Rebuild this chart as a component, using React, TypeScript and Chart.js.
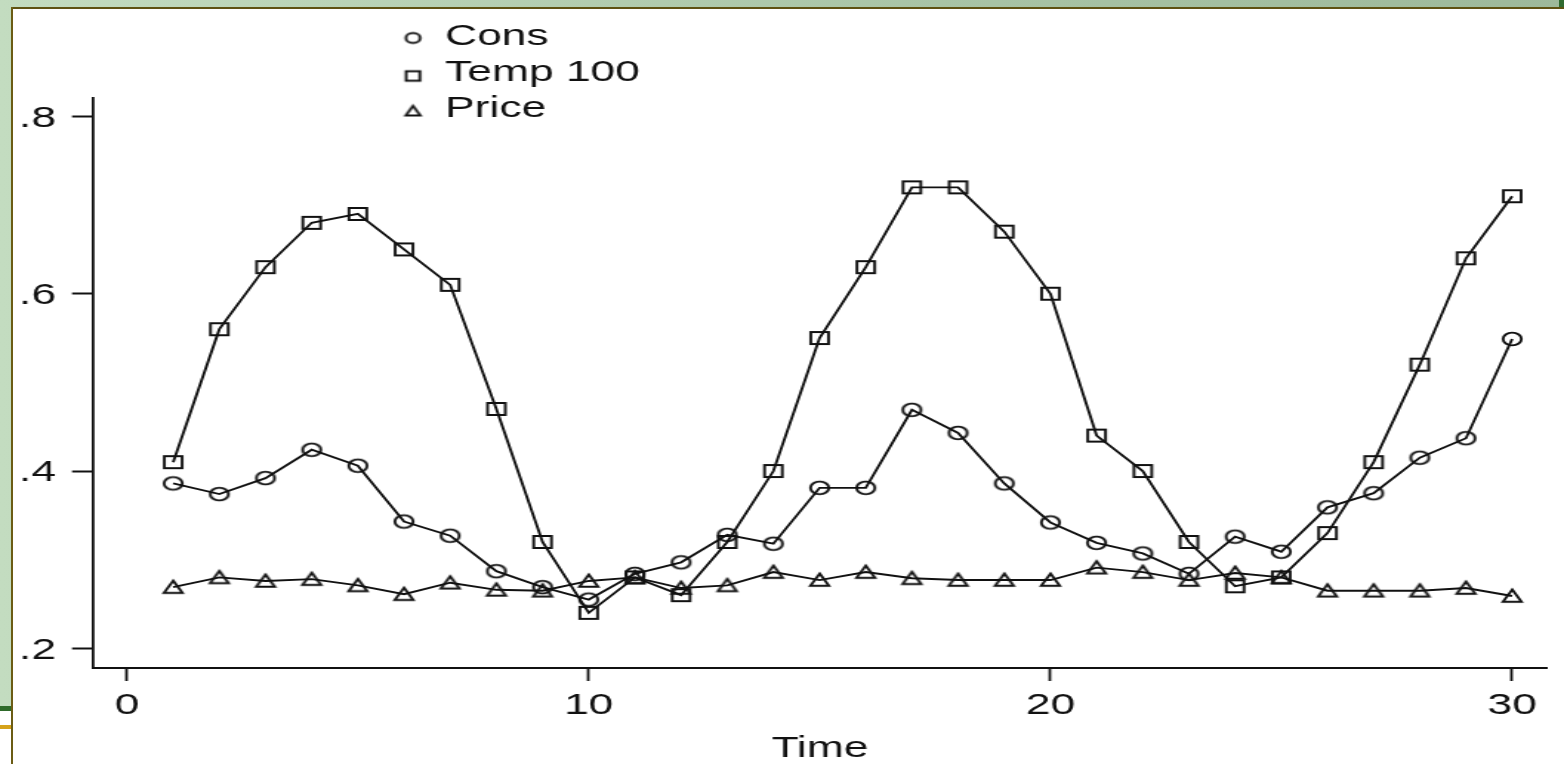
import React, { useEffect, useRef } from "react";
import { Chart, registerables } from "chart.js";

Chart.register(...registerables);

// ---------- data ----------
const time = [1, 2, 3, 4, 5, 6, 7, 8, 9, 10, 11, 12, 13, 14, 15, 16, 17, 18, 19, 20, 21, 22, 23, 24, 25, 26, 27, 28, 29, 30];
const cons = [0.386, 0.374, 0.392, 0.424, 0.406, 0.343, 0.327, 0.287, 0.269, 0.255, 0.284, 0.297, 0.328, 0.318, 0.381, 0.381, 0.469, 0.443, 0.386, 0.342, 0.319, 0.307, 0.284, 0.326, 0.309, 0.359, 0.375, 0.415, 0.437, 0.549];
const temp = [0.41, 0.56, 0.63, 0.68, 0.69, 0.65, 0.61, 0.47, 0.32, 0.24, 0.28, 0.26, 0.32, 0.40, 0.55, 0.63, 0.72, 0.72, 0.67, 0.60, 0.44, 0.40, 0.32, 0.27, 0.28, 0.33, 0.41, 0.52, 0.64, 0.71];
const price = [0.269, 0.280, 0.276, 0.278, 0.271, 0.261, 0.274, 0.266, 0.265, 0.276, 0.280, 0.268, 0.271, 0.286, 0.277, 0.286, 0.279, 0.277, 0.277, 0.277, 0.291, 0.286, 0.277, 0.285, 0.280, 0.265, 0.265, 0.265, 0.268, 0.259];
const seriesLabels = ["Cons", "Temp 100", "Price"];
const seriesShapes = ["circle", "square", "triangle"];
const xTicks = [0, 10, 20, 30];
const yTicks = [0.2, 0.4, 0.6, 0.8];
const xTitle = "Time";

// ---------- layout (screen px) ----------
const W = 1564;
const H = 764;
const CW = 1057; // internal canvas width, stretched horizontally to W
const SX = W / CW;
const FONT = '"Liberation Sans", Arial, Helvetica, sans-serif';
const INK = "#111111";

function makeMarker(kind: string, k: number): HTMLCanvasElement {
  const size = Math.ceil(18 * k) + 2;
  const c = document.createElement("canvas");
  c.width = size;
  c.height = size;
  const g = c.getContext("2d")!;
  g.strokeStyle = INK;
  g.lineWidth = 1.9;
  const cx = size / 2;
  const cy = size / 2;
  g.beginPath();
  if (kind === "circle") {
    g.ellipse(cx, cy, 6.2 * k, 6.4 * k, 0, 0, Math.PI * 2);
  } else if (kind === "square") {
    g.rect(cx - 6 * k, cy - 6 * k, 12 * k, 12 * k);
  } else {
    g.moveTo(cx, cy - 6.5 * k);
    g.lineTo(cx + 6.3 * k, cy + 5.8 * k);
    g.lineTo(cx - 6.3 * k, cy + 5.8 * k);
    g.closePath();
  }
  g.stroke();
  return c;
}

export default function App() {
  const ref = useRef<HTMLCanvasElement | null>(null);

  useEffect(() => {
    const canvas = ref.current;
    if (!canvas) return;
    const markers = seriesShapes.map((s) => makeMarker(s, 1));
    const legendMarkers = seriesShapes.map((s) => makeMarker(s, 0.78));
    const series = [cons, temp, price];

    const legendPlugin = {
      id: "stackedLegend",
      afterDraw(chart: any) {
        const ctx = chart.ctx as CanvasRenderingContext2D;
        const markerX = 413 / SX;
        const textX = 445 / SX;
        const markerY = [38, 76, 111];
        const baseY = [45, 81, 117];
        ctx.save();
        ctx.font = `30px ${FONT}`;
        ctx.fillStyle = INK;
        ctx.textAlign = "left";
        ctx.textBaseline = "alphabetic";
        chart.data.datasets.forEach((ds: any, i: number) => {
          const img = legendMarkers[i];
          ctx.drawImage(img, markerX - img.width / 2, markerY[i] - img.height / 2);
          ctx.fillText(ds.label, textX, baseY[i]);
        });
        ctx.restore();
      },
    };

    const chart = new Chart(canvas, {
      type: "line",
      data: {
        datasets: series.map((vals, i) => ({
          label: seriesLabels[i],
          data: time.map((t, j) => ({ x: t, y: vals[j] })),
          borderColor: INK,
          borderWidth: 1.9,
          pointStyle: markers[i] as any,
          pointRadius: 7,
          pointBorderColor: INK,
          pointBackgroundColor: "rgba(0,0,0,0)",
          fill: false,
          tension: 0,
        })),
      },
      options: {
        responsive: false,
        maintainAspectRatio: false,
        animation: false,
        events: [],
        layout: {
          padding: { top: 98, right: CW - 1547 / SX, left: 0, bottom: 0 },
        },
        plugins: {
          legend: { display: false },
          tooltip: { enabled: false },
          title: { display: false },
        },
        scales: {
          x: {
            type: "linear",
            min: -0.736,
            max: 30.755,
            afterBuildTicks: (s: any) => {
              s.ticks = xTicks.map((v) => ({ value: v }));
            },
            afterFit: (s: any) => {
              s.height = H - 668;
            },
            grid: {
              drawOnChartArea: false,
              drawTicks: true,
              tickLength: 13,
              tickWidth: 1.8,
              tickColor: INK,
            },
            border: { display: true, color: INK, width: 2 },
            ticks: {
              color: INK,
              padding: 7,
              maxRotation: 0,
              font: { family: FONT, size: 30 },
              callback: (v: any) => String(v),
            },
            title: {
              display: true,
              text: xTitle,
              color: INK,
              font: { family: FONT, size: 30, lineHeight: 1 },
              padding: { top: 0, bottom: 0 },
            },
          },
          y: {
            type: "linear",
            min: 0.1778,
            max: 0.8208,
            afterBuildTicks: (s: any) => {
              s.ticks = yTicks.map((v) => ({ value: v }));
            },
            afterFit: (s: any) => {
              s.width = 93 / SX;
            },
            grid: {
              drawOnChartArea: false,
              drawTicks: true,
              tickLength: 21 / SX,
              tickWidth: 2,
              tickColor: INK,
            },
            border: { display: true, color: INK, width: 1.8 },
            ticks: {
              color: INK,
              padding: 16 / SX,
              labelOffset: 2,
              font: { family: FONT, size: 30 },
              callback: (v: any) => Number(v).toFixed(1).replace(/^0/, ""),
            },
          },
        },
      },
      plugins: [legendPlugin],
    } as any);

    return () => chart.destroy();
  }, []);

  return (
    <div
      style={{
        position: "fixed",
        left: 0,
        top: 0,
        width: W,
        height: H,
        overflow: "hidden",
        background: "linear-gradient(to right, #c3dcc0, #a8c4a5 60%, #9db99a)",
      }}
    >
      {/* dark green corner bit top right */}
      <div style={{ position: "absolute", left: 1559, top: 0, width: 5, height: 8, background: "#2f6a2f" }} />
      {/* olive top rule */}
      <div style={{ position: "absolute", left: 11, top: 7, width: W - 11, height: 2, background: "#5e5212" }} />
      {/* olive left rule */}
      <div style={{ position: "absolute", left: 11, top: 7, width: 2, height: H - 7, background: "#6b5c14" }} />
      {/* white panel */}
      <div style={{ position: "absolute", left: 13, top: 9, width: W - 13, height: H - 9, background: "#ffffff" }} />
      {/* bottom-left strip below the green */}
      <div style={{ position: "absolute", left: 0, top: 706, width: 11, height: H - 706, background: "#ffffff" }} />
      <div style={{ position: "absolute", left: 0, top: 706, width: 11, height: 5, background: "#2e6a2a" }} />
      <div style={{ position: "absolute", left: 0, top: 725, width: 11, height: 4, background: "#d6a31a" }} />
      <canvas
        ref={ref}
        width={CW}
        height={H}
        style={{
          position: "absolute",
          left: 0,
          top: 0,
          width: CW,
          height: H,
          transform: `scaleX(${SX})`,
          transformOrigin: "0 0",
        }}
      />
    </div>
  );
}
